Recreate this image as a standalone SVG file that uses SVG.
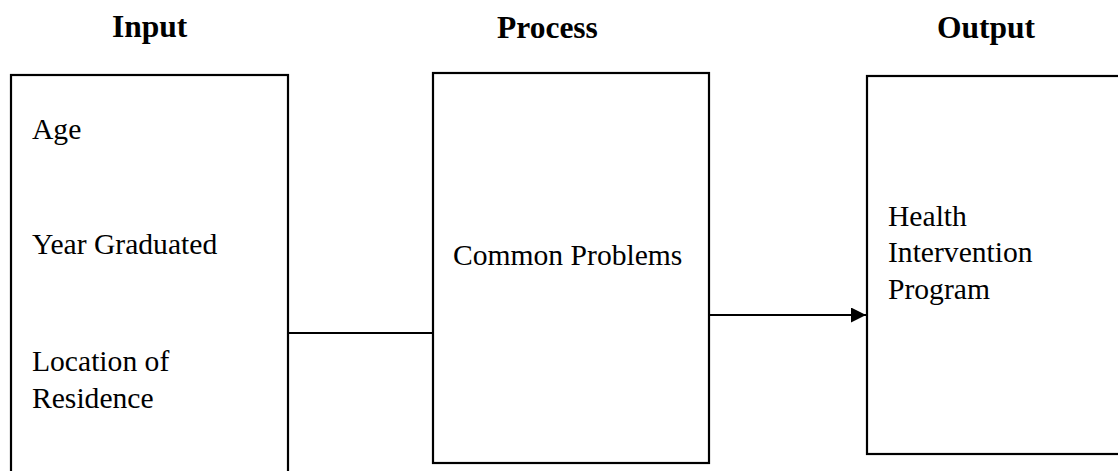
<svg xmlns="http://www.w3.org/2000/svg" width="1118" height="471" viewBox="0 0 1118 471">
<style>
.box{fill:#fff;stroke:#000;stroke-width:2.2}
.h{font-family:"Liberation Serif","Times New Roman",serif;font-weight:bold;font-size:31.5px;fill:#000}
.t{font-family:"Liberation Serif","Times New Roman",serif;font-size:29.6px;fill:#000}
.c{fill:none;stroke:#000;stroke-width:2.2}
</style>
<defs>
<marker id="arr" markerWidth="16" markerHeight="16" refX="15" refY="7.5" orient="auto" markerUnits="userSpaceOnUse">
<path d="M0,0 L15,7.5 L0,15 Z" fill="#000"/>
</marker>
</defs>
<rect width="1118" height="471" fill="#fff"/>
<g id="headers">
<text class="h" x="112" y="37">Input</text>
<text class="h" x="497" y="38">Process</text>
<text class="h" x="937" y="38">Output</text>
</g>
<g id="connectors">
<line class="c" x1="288" y1="333" x2="433" y2="333"/>
<line class="c" x1="709" y1="315" x2="866" y2="315" marker-end="url(#arr)"/>
</g>
<g id="input">
<rect class="box" x="11" y="75" width="277" height="410"/>
<text class="t" x="32" y="139">Age</text>
<text class="t" x="32" y="254">Year Graduated</text>
<text class="t" x="32" y="371">Location of</text>
<text class="t" x="32" y="408">Residence</text>
</g>
<g id="process">
<rect class="box" x="433" y="73" width="276" height="390"/>
<text class="t" x="453" y="265">Common Problems</text>
</g>
<g id="output">
<rect class="box" x="867" y="76" width="270" height="378"/>
<text class="t" x="888" y="226">Health</text>
<text class="t" x="888" y="262">Intervention</text>
<text class="t" x="888" y="299">Program</text>
</g>
</svg>
